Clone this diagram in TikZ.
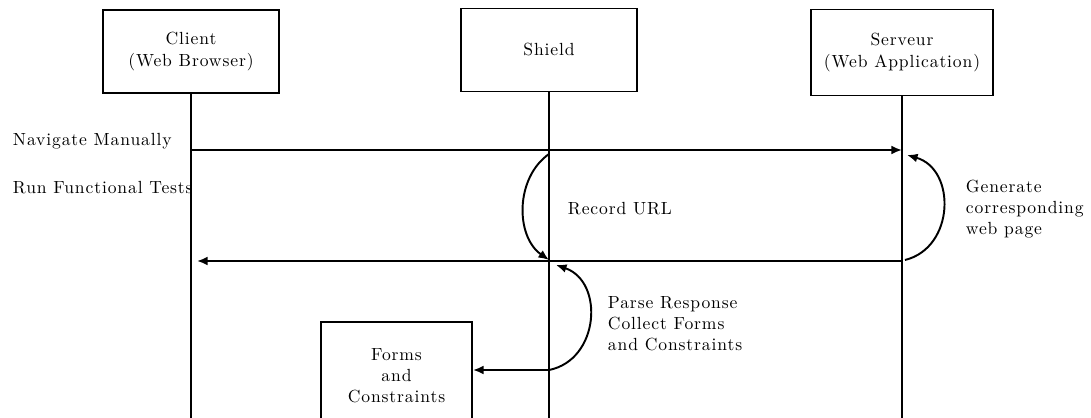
\documentclass[tikz,border=0pt]{standalone}
\usepackage{fontspec}
\setmainfont{Latin Modern Roman}[LetterSpace=5]
\usepackage{tikz}
\usetikzlibrary{arrows.meta}
\usepackage{xcolor}

\begin{document}
\begin{tikzpicture}[line width=1.1pt,>={Latex[length=6pt,width=5pt]},
  actor/.style={draw,align=center,minimum width=3.52cm,minimum height=1.66cm},
  lbl/.style={anchor=west,align=left,inner sep=0pt}]
\useasboundingbox (0,0) rectangle (21.82,8.34);
\clip (0,0) rectangle (21.82,8.34);
\node[actor] (client) at (3.82,7.31) {Client\\(Web Browser)};
\node[actor] (shield) at (10.98,7.34) {Shield};
\node[actor,minimum width=3.64cm,minimum height=1.72cm] (serveur) at (18.04,7.29) {Serveur\\(Web Application)};
\node[actor,minimum width=3.02cm,minimum height=2.16cm] (forms) at (7.93,.82) {Forms\\and\\Constraints};
\coordinate (bot) at (0,-.3);
\foreach \a in {client,shield,serveur}{\draw (\a.south) -- (\a.south |- bot);}
% rows of the messages
\coordinate (r1) at (0,5.34); \coordinate (r2) at (0,3.12); \coordinate (r3) at (0,.94);
\draw[->] (client |- r1) -- (serveur |- r1);
\draw[->,shorten >=.12cm] (serveur |- r2) -- (client |- r2);
\draw[->] (shield |- r3) -- (forms.east |- r3);
% self arcs
\coordinate (s1) at (10.98,5.26); \coordinate (s2) at (10.98,3.14);
\draw[->] (s1) to[bend right=55] (s2);
\coordinate (g1) at (18.10,3.14); \coordinate (g2) at (18.14,5.24);
\draw[->] (g1) to[bend right=75,looseness=1.25] (g2);
\coordinate (p1) at (10.98,.94); \coordinate (p2) at (11.12,3.04);
\draw[->] (p1) to[bend right=75,looseness=1.25] (p2);
% texts
\node[lbl] (nav) at (.24,5.52) {Navigate Manually};
\node[lbl] (run) at (.24,4.58) {Run Functional Tests};
\node[lbl] (rec) at (11.34,4.16) {Record URL};
\node[lbl] (gen) at (19.30,4.16) {Generate\\corresponding\\web page};
\node[lbl] (parse) at (12.14,1.86) {Parse Response\\Collect Forms\\and Constraints};
\end{tikzpicture}
\end{document}
